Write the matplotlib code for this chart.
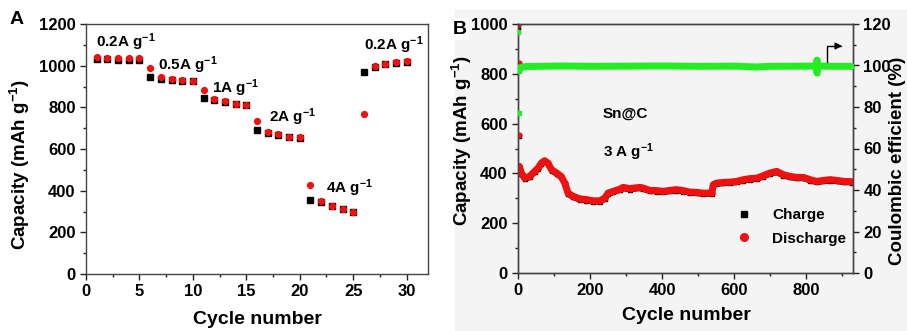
import matplotlib
matplotlib.use("Agg")
import matplotlib.pyplot as plt
from matplotlib.ticker import MultipleLocator
from matplotlib.patches import Rectangle

plt.rcParams['font.family'] = ['Liberation Sans', 'DejaVu Sans']
plt.rcParams['font.weight'] = 'bold'
plt.rcParams['mathtext.fontset'] = 'custom'
plt.rcParams['mathtext.rm'] = 'Liberation Sans:bold'
plt.rcParams['mathtext.bf'] = 'Liberation Sans:bold'
plt.rcParams['mathtext.default'] = 'bf'

# ---------------- Panel A data (rate capability) ----------------
cycles_a = list(range(1, 31))
charge_a = [1030, 1030, 1028, 1025, 1028,
            944, 938, 932, 928, 925,
            844, 836, 827, 815, 810,
            689, 678, 668, 658, 655,
            356, 344, 326, 310, 298,
            972, 995, 1008, 1014, 1020]
discharge_a = [1040, 1038, 1038, 1035, 1035,
               988, 944, 935, 930, 928,
               884, 840, 831, 818, 812,
               735, 681, 670, 660, 657,
               428, 350, 328, 312, 299,
               770, 997, 1010, 1016, 1023]
rate_labels = ["0.2A g$^{-1}$", "0.5A g$^{-1}$", "1A g$^{-1}$",
               "2A g$^{-1}$", "4A g$^{-1}$", "0.2A g$^{-1}$"]
rate_label_x = [0.9, 6.7, 11.8, 17.1, 22.5, 26.0]
rate_label_y = [1114, 1003, 893, 753, 413, 1099]

# ---------------- Panel B data (long cycling at 3 A g-1) ----------------
cycles_b = [1, 2, 3, 4, 9, 19, 32, 46, 56, 65, 74, 83, 93, 107, 120, 130,
            139, 153, 171, 190, 209, 227, 241, 250, 264, 283, 292, 310, 338,
            348, 366, 385, 403, 422, 440, 459, 477, 496, 514, 538, 542, 551,
            570, 588, 607, 626, 644, 663, 681, 700, 718, 737, 755, 774, 792,
            811, 829, 848, 867, 885, 904, 927]
discharge_b = [995, 845, 555, 428, 402, 381, 388, 408, 422, 442, 451, 442,
               415, 402, 388, 361, 321, 308, 298, 295, 290, 290, 301, 321,
               328, 337, 344, 339, 344, 341, 332, 331, 328, 332, 335, 331,
               325, 324, 321, 321, 355, 361, 364, 365, 368, 375, 379, 381,
               391, 402, 408, 395, 388, 384, 384, 375, 368, 372, 375, 372,
               368, 367]
charge_b = [985, 840, 550, 424, 398, 377, 384, 404, 418, 438, 447, 438,
            411, 398, 384, 357, 317, 304, 294, 291, 286, 286, 297, 317,
            324, 333, 340, 335, 340, 337, 328, 327, 324, 328, 331, 327,
            321, 320, 317, 317, 351, 357, 360, 361, 364, 371, 375, 377,
            387, 398, 404, 391, 384, 380, 380, 371, 364, 368, 371, 368,
            364, 363]
ce_cycles = [1, 2, 3, 6, 20, 60, 120, 200, 300, 400, 500, 600, 660, 700,
             800, 829, 830, 830, 831, 880, 927]
ce_values = [116, 77, 97.5, 99, 99.5, 99.6, 99.8, 99.6, 99.7, 99.8, 99.6,
             99.7, 99.3, 99.6, 99.7, 99.7, 102.6, 96.4, 99.7, 99.6, 99.6]

RED = '#f01010'
GREEN = '#22ee22'
BG_B = '#f4f4f4'

fig = plt.figure(figsize=(9.07, 3.31), dpi=100)
fig.patches.append(Rectangle((455 / 907, 0), 1 - 455 / 907, 1 - 10 / 331,
                             transform=fig.transFigure, color=BG_B, zorder=-5))

# ---------------- Panel A ----------------
axA = fig.add_axes([86 / 907, 1 - 274 / 331, (428 - 86) / 907, 250 / 331])
axA.plot(cycles_a, charge_a, 's', color='black', markersize=4.2, zorder=3)
axA.plot(cycles_a, discharge_a, 'o', color=RED, markersize=5.2, zorder=4,
         markeredgewidth=0)
for t, x, y in zip(rate_labels, rate_label_x, rate_label_y):
    axA.text(x, y, t, fontsize=11, fontweight='bold', ha='left', va='center')
axA.set_xlim(0, 32)
axA.set_ylim(0, 1200)
axA.xaxis.set_major_locator(MultipleLocator(5))
axA.xaxis.set_minor_locator(MultipleLocator(2.5))
axA.yaxis.set_major_locator(MultipleLocator(200))
axA.yaxis.set_minor_locator(MultipleLocator(100))

# ---------------- Panel B ----------------
axB = fig.add_axes([518 / 907, 1 - 273 / 331, (853 - 518) / 907, 249 / 331])
axB.set_facecolor(BG_B)
axB.plot(cycles_b[3:], charge_b[3:], '-', color='black', lw=4, zorder=2,
         solid_joinstyle='round', solid_capstyle='round')
axB.plot(cycles_b, charge_b, 's', color='black', markersize=3, zorder=2)
axB.plot(cycles_b[3:], discharge_b[3:], '-', color=RED, lw=5, zorder=3,
         solid_joinstyle='round', solid_capstyle='round')
axB.plot(cycles_b, discharge_b, 'o', color=RED, markersize=4.5, zorder=3,
         markeredgewidth=0)
axB.set_xlim(0, 930)
axB.set_ylim(0, 1000)
axB.xaxis.set_major_locator(MultipleLocator(200))
axB.xaxis.set_minor_locator(MultipleLocator(100))
axB.yaxis.set_major_locator(MultipleLocator(200))
axB.yaxis.set_minor_locator(MultipleLocator(100))
axB.text(236, 639, "Sn@C", fontsize=11, fontweight='bold', ha='left', va='center')
axB.text(236, 486, "3 A g$^{-1}$", fontsize=11, fontweight='bold', ha='left', va='center')

axB2 = axB.twinx()
axB2.plot(ce_cycles[2:], ce_values[2:], '-', color=GREEN, lw=5,
          solid_joinstyle='round', solid_capstyle='butt', zorder=3)
axB2.plot(ce_cycles, ce_values, 's', color=GREEN, markersize=3.5, zorder=3)
axB2.set_ylim(0, 120)
axB2.yaxis.set_major_locator(MultipleLocator(20))
axB2.yaxis.set_minor_locator(MultipleLocator(10))
axB2.annotate('', xy=(900, 109.4), xytext=(858, 101.7),
              arrowprops=dict(arrowstyle='-|>', color='black', lw=1,
                              connectionstyle='angle,angleA=90,angleB=0,rad=0',
                              shrinkA=0, shrinkB=0, mutation_scale=10))

hC, = axB.plot([], [], 's', color='black', markersize=4.2, label='Charge')
hD, = axB.plot([], [], 'o', color=RED, markersize=5.5, label='Discharge')
axB.legend(handles=[hC, hD], loc='lower right', bbox_to_anchor=(1.02, 0.055),
           frameon=False, prop={'size': 11, 'weight': 'bold'},
           handlelength=1.0, handletextpad=1.3, labelspacing=0.6)

for ax in (axA, axB, axB2):
    ax.tick_params(which='both', direction='out', width=1, colors='#222222',
                   labelsize=12, labelcolor='black')
    ax.tick_params(which='major', length=4)
    ax.tick_params(which='minor', length=2.5)
    for s in ax.spines.values():
        s.set_color('#444444')
        s.set_linewidth(1)
    for lab in ax.get_xticklabels() + ax.get_yticklabels():
        lab.set_fontweight('bold')

# Axis labels and panel letters
fig.text(20 / 907, 1 - 165 / 331, "Capacity (mAh g$^{-1}$)", rotation=90,
         fontsize=13.5, fontweight='bold', ha='center', va='center')
fig.text(257 / 907, 1 - 320 / 331, "Cycle number", fontsize=14,
         fontweight='bold', ha='center', va='center')
fig.text(462 / 907, 1 - 141 / 331, "Capacity (mAh g$^{-1}$)", rotation=90,
         fontsize=13.5, fontweight='bold', ha='center', va='center')
fig.text(686 / 907, 1 - 315 / 331, "Cycle number", fontsize=14,
         fontweight='bold', ha='center', va='center')
fig.text(898 / 907, 1 - 161 / 331, "Coulombic efficient (%)", rotation=90,
         fontsize=13.5, fontweight='bold', ha='center', va='center')
fig.text(17 / 907, 1 - 19 / 331, "A", fontsize=14, fontweight='bold',
         ha='center', va='center')
fig.text(460 / 907, 1 - 29 / 331, "B", fontsize=14, fontweight='bold',
         ha='center', va='center',
         bbox=dict(facecolor='white', edgecolor='none', pad=1.5))

fig.savefig("out.png", dpi=100)
